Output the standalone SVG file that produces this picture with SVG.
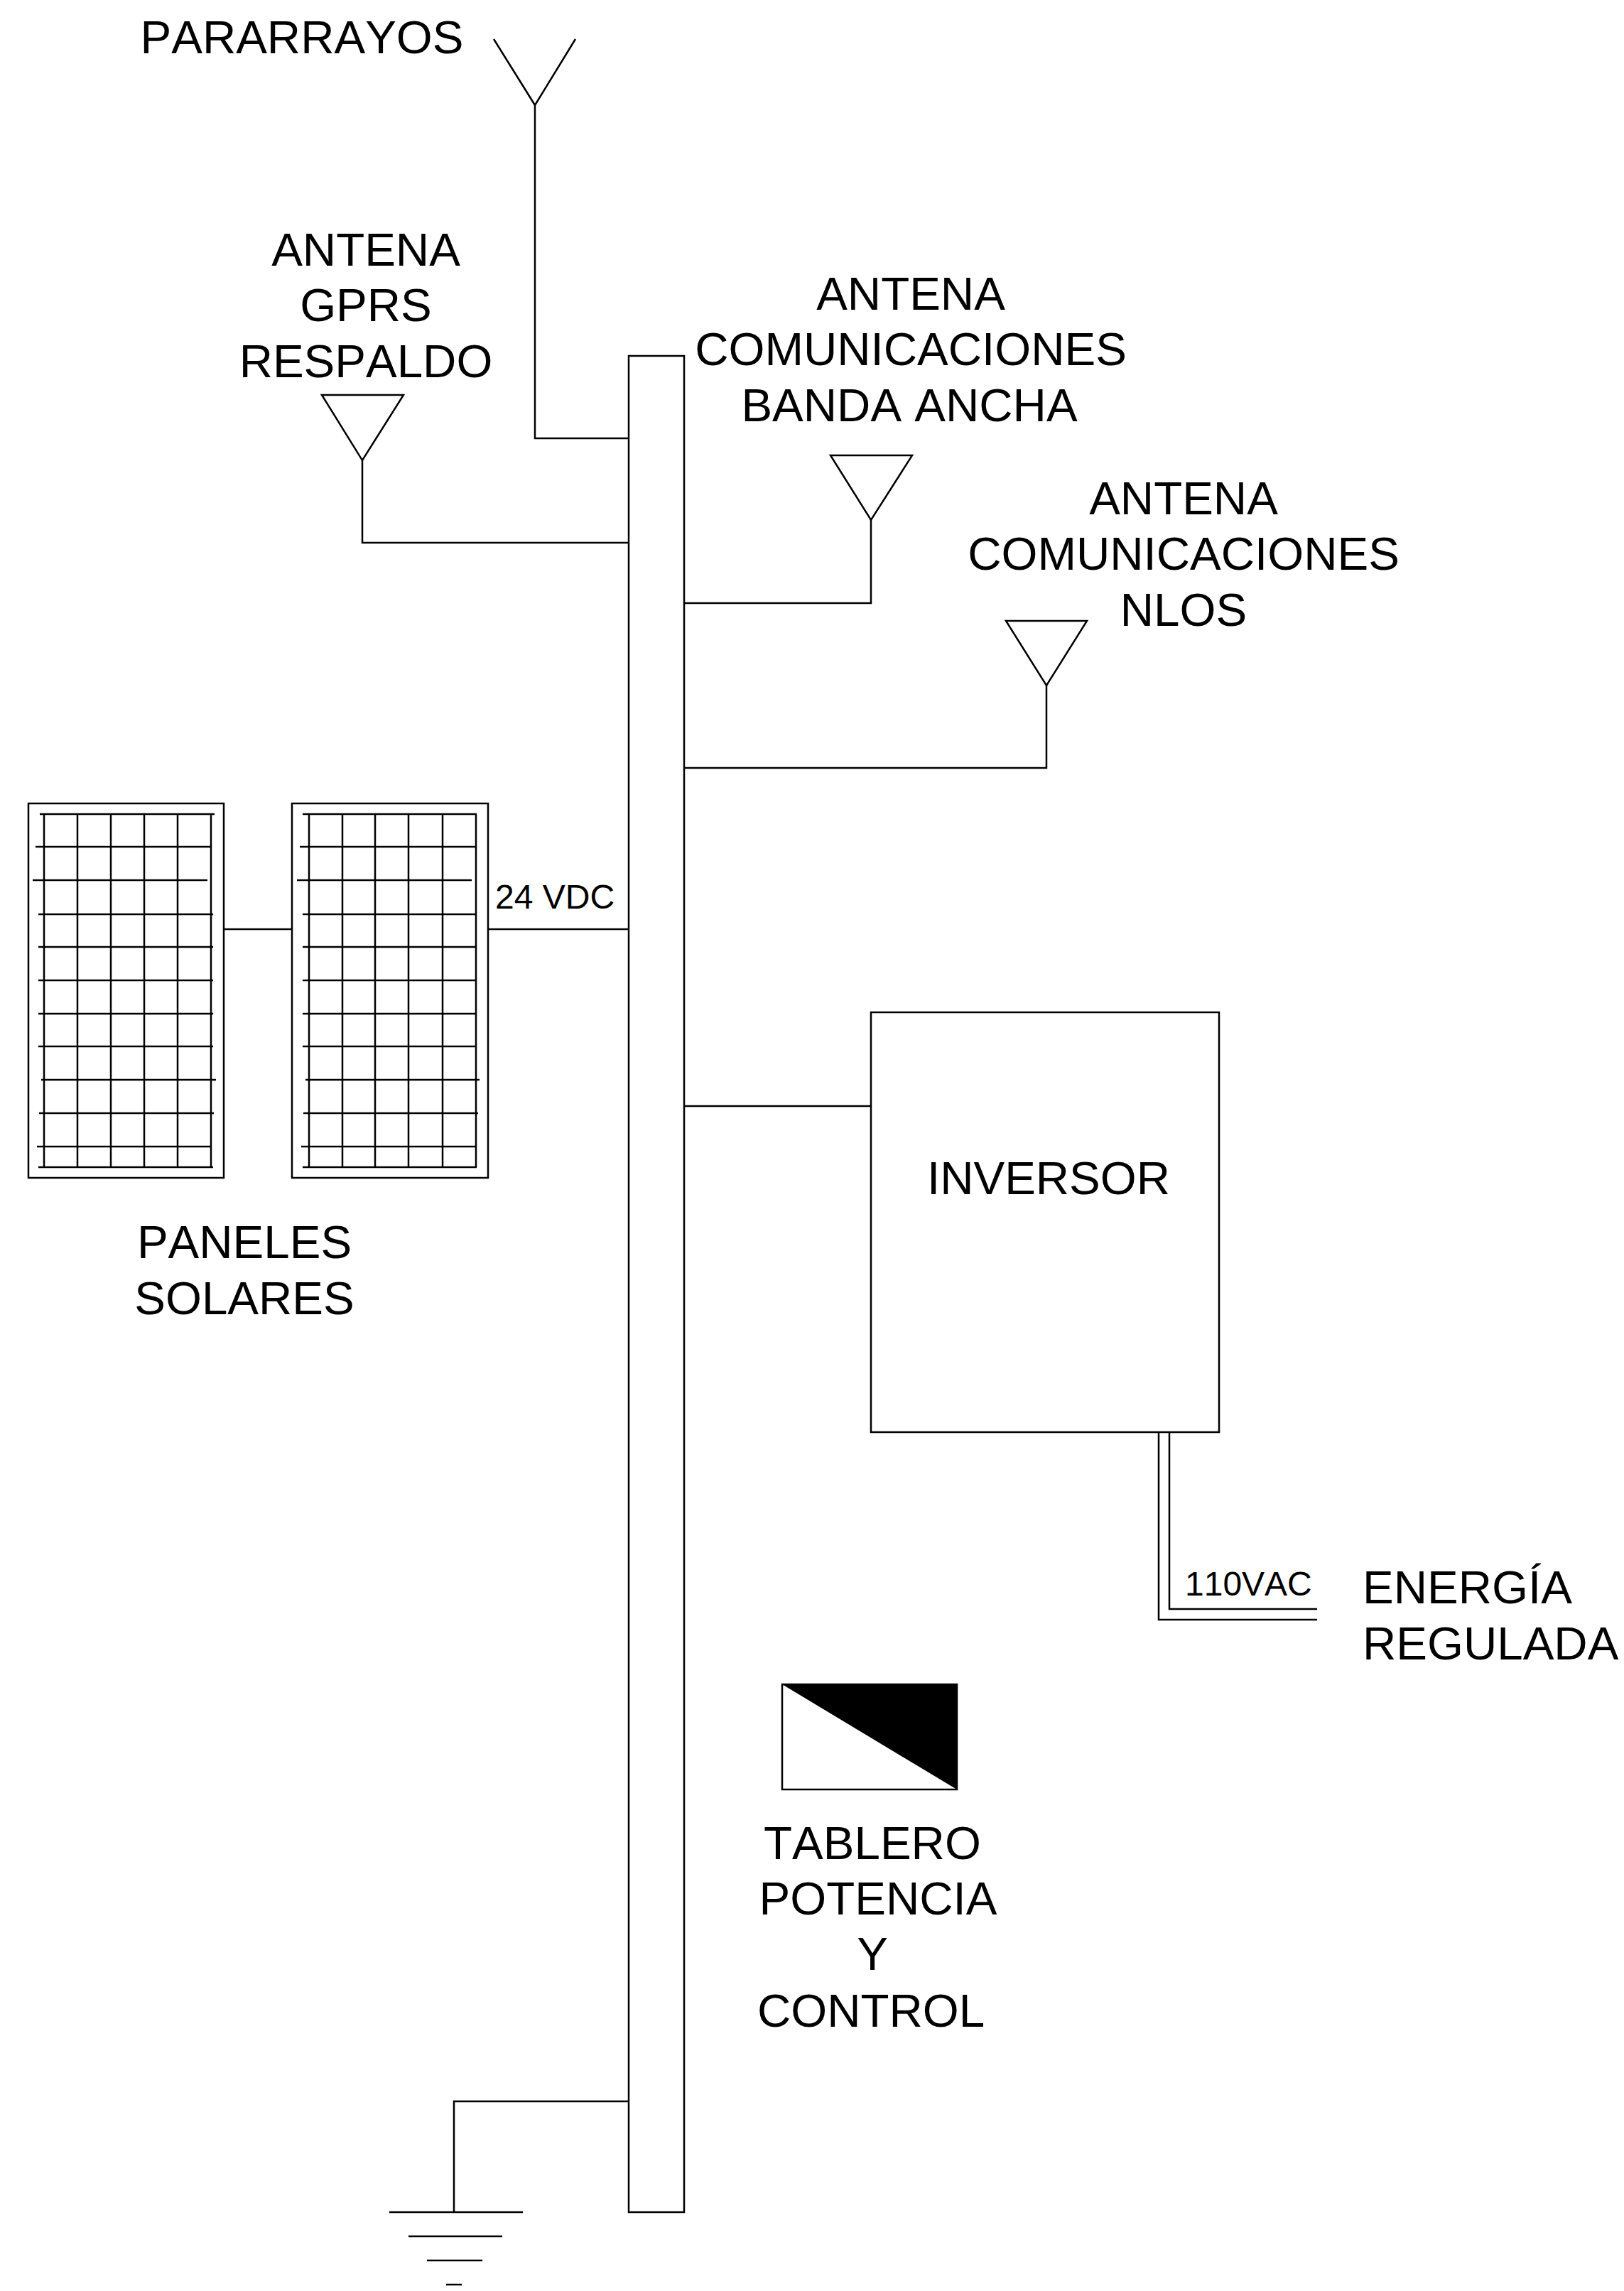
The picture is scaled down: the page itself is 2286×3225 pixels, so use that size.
<svg xmlns="http://www.w3.org/2000/svg" width="2286" height="3225" viewBox="0 0 2286 3225">
<style>
.l{fill:none;stroke:#000;stroke-width:2.5}
.t{font-family:"Liberation Sans",Arial,sans-serif;font-size:65.5px;fill:#000;text-anchor:middle;font-kerning:none}
.s{font-family:"Liberation Sans",Arial,sans-serif;font-size:48px;fill:#000;font-kerning:none}
</style>
<rect width="2286" height="3225" fill="#fff"/>
<g id="connectors" class="l">
<path d="M753 148V617H885"/>
<path d="M510 648V764H885"/>
<path d="M1226 732V849H963"/>
<path d="M1473 965V1081H963"/>
<path d="M315 1308H411"/>
<path d="M687 1308H885"/>
<path d="M963 1557H1226"/>
<path d="M1646 2016V2265H1854"/>
<path d="M1631 2016V2280H1854"/>
<path d="M885 2958H639V3114"/>
</g>
<g id="pararrayos"><path class="l" d="M695 55L753 148L810 55"/><text class="t" x="425" y="75">PARARRAYOS</text></g>
<g id="antena-gprs"><path class="l" d="M453 556H568L510 648Z"/><text class="t"><tspan x="515" y="374">ANTENA</tspan><tspan x="515" y="452">GPRS</tspan><tspan x="515" y="531">RESPALDO</tspan></text></g>
<g id="antena-banda-ancha"><path class="l" d="M1169 641H1284L1226 732Z"/><text class="t"><tspan x="1282" y="436">ANTENA</tspan><tspan x="1282" y="514">COMUNICACIONES</tspan><tspan x="1280" y="593">BANDA ANCHA</tspan></text></g>
<g id="antena-nlos"><path class="l" d="M1416 874H1530L1473 965Z"/><text class="t"><tspan x="1666" y="724">ANTENA</tspan><tspan x="1666" y="802">COMUNICACIONES</tspan><tspan x="1666" y="881">NLOS</tspan></text></g>
<g id="bus"><rect class="l" x="885" y="501" width="78" height="2613"/></g>
<g id="panel-1"><rect class="l" x="40" y="1131" width="275" height="527"/>
<path class="l" d="M62 1146V1643M109 1146V1643M156 1146V1643M203 1146V1643M250 1146V1643M297 1146V1643M56 1146H302M50 1192H296M46 1239H292M54 1287H300M54 1333H300M54 1380H300M54 1427H300M54 1473H300M58 1520H304M55 1567H301M52 1614H297M54 1643H300"/></g>
<g id="panel-2"><rect class="l" x="411" y="1131" width="276" height="527"/>
<path class="l" d="M435 1146V1643M482 1146V1643M528 1146V1643M575 1146V1643M623 1146V1643M670 1146V1643M426 1146H671M422 1192H669M418 1239H664M426 1287H671M426 1333H671M426 1380H671M426 1427H671M426 1473H671M430 1520H675M427 1567H673M424 1614H669M426 1643H671"/></g>
<g id="paneles-label"><text class="s" x="697" y="1279">24 VDC</text><text class="t"><tspan x="344" y="1771">PANELES</tspan><tspan x="344" y="1850">SOLARES</tspan></text></g>
<g id="inversor"><rect class="l" x="1226" y="1425" width="490" height="591"/><text class="t" x="1476" y="1681">INVERSOR</text></g>
<g id="energia-regulada"><text class="s" x="1668" y="2246">110VAC</text><text class="t" style="text-anchor:start"><tspan x="1918" y="2257">ENERGÍA</tspan><tspan x="1918" y="2336">REGULADA</tspan></text></g>
<g id="tablero"><rect class="l" x="1101" y="2371" width="246" height="148"/><path d="M1101 2371H1347V2519Z" fill="#000"/><text class="t"><tspan x="1228" y="2617">TABLERO</tspan><tspan x="1236" y="2695">POTENCIA</tspan><tspan x="1228" y="2773">Y</tspan><tspan x="1226" y="2853">CONTROL</tspan></text></g>
<g id="tierra"><path class="l" d="M548 3114H736M575 3148H707M601 3182H679M628 3216H650"/></g>
</svg>
